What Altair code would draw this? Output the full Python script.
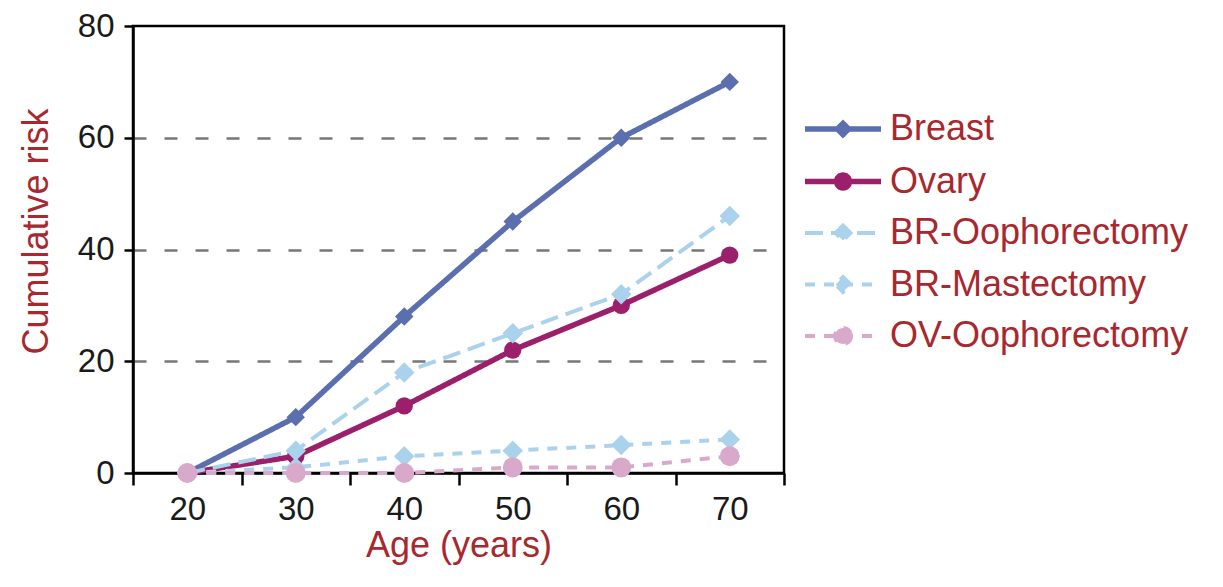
import altair as alt
import pandas as pd

# ---- data ----
ages = [20, 30, 40, 50, 60, 70]
series_names = ["Breast", "Ovary", "BR-Oophorectomy", "BR-Mastectomy", "OV-Oophorectomy"]
breast = [0, 10, 28, 45, 60, 70]
ovary = [0, 3, 12, 22, 30, 39]
br_oophorectomy = [0, 4, 18, 25, 32, 46]
br_mastectomy = [0, 1, 3, 4, 5, 6]
ov_oophorectomy = [0, 0, 0, 1, 1, 3]
y_tick_values = [0, 20, 40, 60, 80]
x_tick_values = [15, 25, 35, 45, 55, 65, 75]   # category boundaries

values_by_series = [breast, ovary, br_oophorectomy, br_mastectomy, ov_oophorectomy]
rows = []
for name, vals in zip(series_names, values_by_series):
    for a, v in zip(ages, vals):
        rows.append({"age": a, "risk": v, "series": name})
df = pd.DataFrame(rows)

# ---- styles ----
RED = "#a8282e"
FONT = "Liberation Sans"
colors = ["#5b6eae", "#9c1f6c", "#abd2ec", "#abd2ec", "#d9a9cc"]
dashes = [[1, 0], [1, 0], [18, 8], [10, 9], [10, 9]]
widths = [5.5, 5.5, 4, 4, 4]
marker_shapes = ["diamond", "circle", "diamond", "diamond", "circle"]
marker_sizes = [340, 300, 420, 420, 400]

L = 1.9
def diamond_path(r):
    return f"M-{L},0L{L},0M0,-{r}L{r},0L0,{r}L-{r},0Z"
def circle_path(r):
    return f"M-{L},0L{L},0M{r},0A{r},{r},0,1,1,-{r},0A{r},{r},0,1,1,{r},0Z"
legend_paths = [diamond_path(0.28), circle_path(0.32), diamond_path(0.37),
                diamond_path(0.37), circle_path(0.4)]

color_scale = alt.Scale(domain=series_names, range=colors)
dash_scale = alt.Scale(domain=series_names, range=dashes)
width_scale = alt.Scale(type="ordinal", domain=series_names, range=widths)
size_scale = alt.Scale(type="ordinal", domain=series_names, range=marker_sizes)

band = 651 / 6.0

x_enc = alt.X(
    "age:Q",
    scale=alt.Scale(domain=[15, 75], nice=False, zero=False),
    axis=alt.Axis(
        values=x_tick_values,
        labelExpr="datum.value < 20 ? '' : '' + (datum.value - 5)",
        labelOffset=-band / 2,
        labelFlush=False,
        labelOverlap=False,
        grid=False,
        tickSize=12,
        labelPadding=8,
        titlePadding=2,
    ),
    title="Age (years)",
)
y_enc = alt.Y(
    "risk:Q",
    scale=alt.Scale(domain=[0, 80], nice=False),
    axis=alt.Axis(
        values=y_tick_values,
        grid=True,
        gridDash=[13, 18],
        gridColor="#777777",
        gridWidth=2.5,
        gridOpacity={"condition": {"test": "datum.value >= 80 || datum.value <= 0", "value": 0}, "value": 1},
        tickSize=9,
        labelPadding=10,
        titlePadding=22,
        titleY=205,
    ),
    title="Cumulative risk",
)

base = alt.Chart(df)

lines = base.mark_line().encode(
    x=x_enc,
    y=y_enc,
    color=alt.Color("series:N", scale=color_scale, legend=None),
    strokeDash=alt.StrokeDash("series:N", scale=dash_scale, legend=None),
    strokeWidth=alt.StrokeWidth("series:N", scale=width_scale, legend=None),
)

points = base.mark_point(filled=True, opacity=1).encode(
    x=x_enc,
    y=y_enc,
    color=alt.Color("series:N", scale=color_scale, legend=None),
    shape=alt.Shape("series:N", scale=alt.Scale(domain=series_names, range=marker_shapes), legend=None),
    size=alt.Size("series:N", scale=size_scale, legend=None),
)

legend_layer = base.transform_filter("datum.risk < 0").mark_point(filled=True, opacity=1).encode(
    x=x_enc,
    y=y_enc,
    color=alt.Color("series:N", scale=color_scale, legend=alt.Legend(title=None)),
    stroke=alt.Stroke("series:N", scale=color_scale, legend=alt.Legend(title=None)),
    shape=alt.Shape("series:N", scale=alt.Scale(domain=series_names, range=legend_paths),
                    legend=alt.Legend(title=None)),
    strokeDash=alt.StrokeDash("series:N", scale=dash_scale, legend=alt.Legend(title=None)),
    strokeWidth=alt.StrokeWidth("series:N", scale=width_scale, legend=alt.Legend(title=None)),
)

chart = (
    alt.layer(lines, points, legend_layer)
    .resolve_scale(color="independent", stroke="independent", shape="independent",
                   strokeDash="independent", strokeWidth="independent", size="independent")
    .properties(
        width=651,
        height=447,
        autosize=alt.AutoSizeParams(type="none"),
        padding={"left": 125, "top": 18, "right": 431, "bottom": 106},
    )
    .configure_view(stroke="black", strokeWidth=2.5)
    .configure_axis(
        domainColor="black",
        domainWidth=2.5,
        tickColor="black",
        tickWidth=2.5,
        labelFont=FONT,
        labelFontSize=33,
        labelColor="#1a1a1a",
        titleFont=FONT,
        titleFontSize=36,
        titleFontWeight="normal",
        titleColor=RED,
    )
    .configure_legend(
        orient="none",
        legendX=687,
        legendY=80,
        padding=0,
        symbolSize=1600,
        symbolOffset=0,
        symbolOpacity=1,
        labelFont=FONT,
        labelFontSize=36,
        labelColor=RED,
        labelOffset=24,
        labelLimit=0,
        rowPadding=11.5,
    )
)

chart.save("out.html", embed_options={"renderer": "svg", "actions": False})
